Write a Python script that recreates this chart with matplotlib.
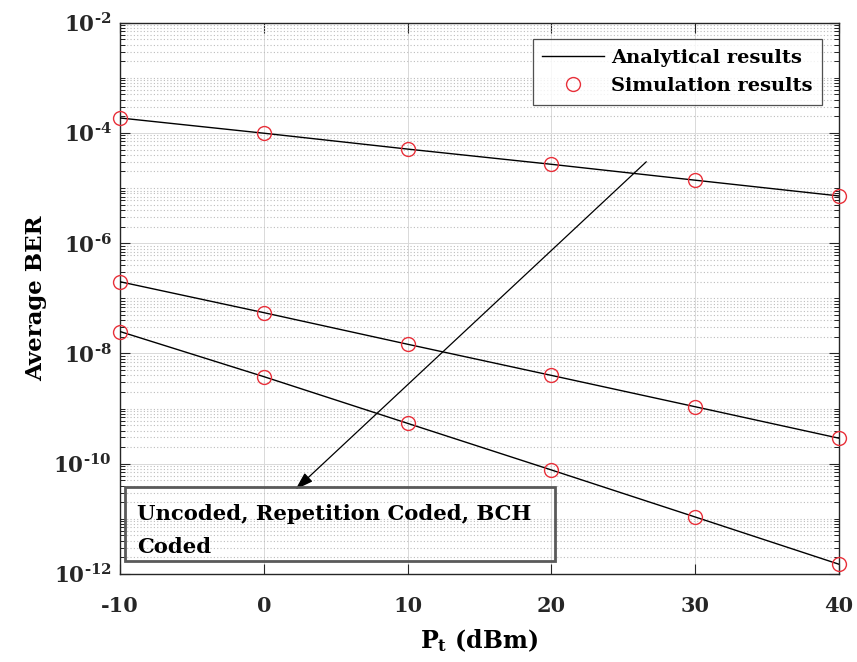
import numpy as np
import matplotlib
matplotlib.use("Agg")
import matplotlib.pyplot as plt
from matplotlib.patches import Rectangle
from matplotlib.ticker import FixedLocator, FuncFormatter, NullFormatter

plt.rcParams['font.family'] = ['DejaVu Serif']
plt.rcParams['font.weight'] = 'bold'
plt.rcParams['mathtext.fontset'] = 'dejavuserif'

# Transmit power (dBm)
pt_dbm = [-10, 0, 10, 20, 30, 40]

# Average BER for each scheme
ber_uncoded = [1.87e-4, 9.9e-5, 5.1e-5, 2.7e-5, 1.39e-5, 7.2e-6]
ber_repetition = [2.0e-7, 5.5e-8, 1.47e-8, 4.0e-9, 1.08e-9, 2.9e-10]
ber_bch = [2.5e-8, 3.8e-9, 5.4e-10, 7.7e-11, 1.08e-11, 1.5e-12]

x_ticks = [-10, 0, 10, 20, 30, 40]
y_exponents = [-12, -10, -8, -6, -4, -2]

HYPHEN = '\u2010'

fig = plt.figure(figsize=(8.57, 6.62), dpi=100)
ax = fig.add_axes([0.140, 0.133, 0.839, 0.8327])

red = '#e8303a'
series = [ber_uncoded, ber_repetition, ber_bch]
for i, ber in enumerate(series):
    ax.plot(pt_dbm, ber, color='black', lw=1.0,
            label='Analytical results' if i == 0 else None, zorder=3)
for i, ber in enumerate(series):
    ax.plot(pt_dbm, ber, ls='none', marker='o', ms=10, mfc='none',
            mec=red, mew=1.0, label='Simulation results' if i == 0 else None,
            zorder=4, clip_on=False)

ax.set_yscale('log')
ax.set_xlim(-10, 40)
ax.set_ylim(1e-12, 1e-2)

ax.xaxis.set_major_locator(FixedLocator(x_ticks))
ax.yaxis.set_major_locator(FixedLocator([10.0 ** e for e in y_exponents]))
minor = [k * 10.0 ** e for e in range(-12, -2) for k in range(1, 10)
         if not (k == 1 and e in y_exponents)]
ax.yaxis.set_minor_locator(FixedLocator(minor))
ax.yaxis.set_minor_formatter(NullFormatter())
ax.xaxis.set_major_formatter(FuncFormatter(lambda v, p: '%d' % v))


def log_label(v, pos):
    e = int(round(np.log10(v)))
    s = str(e).replace('-', HYPHEN)
    return r'$\mathbf{10}^{\mathbf{%s}}$' % s


ax.yaxis.set_major_formatter(FuncFormatter(log_label))

ax.tick_params(axis='both', which='major', direction='in', length=7,
               width=0.8, labelsize=15, top=True, right=True, pad=16,
               colors='#262626')
ax.tick_params(axis='y', which='major', labelsize=15.5, pad=6)
ax.tick_params(axis='y', which='minor', direction='in', length=3.5,
               width=0.6, right=True, left=True)
ax.tick_params(axis='x', which='minor', bottom=False, top=False)
for lab in ax.get_xticklabels():
    lab.set_fontweight('bold')

ax.grid(True, which='major', color='#d9d9d9', lw=0.7, ls='-', zorder=0)
ax.grid(True, which='minor', axis='y', color='#bdbdbd', lw=0.8,
        ls=(0, (1, 2)), zorder=0)
ax.set_axisbelow(True)
for s in ax.spines.values():
    s.set_color('#262626')
    s.set_linewidth(1.0)

ax.set_xlabel(r'P$_{\mathbf{t}}$ (dBm)', fontsize=17, fontweight='bold',
              labelpad=8)
ax.set_ylabel('Average BER', fontsize=16.5, fontweight='bold', labelpad=4)

leg = ax.legend(loc='upper right', bbox_to_anchor=(1.0, 1.0),
                fontsize=14, frameon=True, fancybox=False,
                edgecolor='#262626', handlelength=3.2, borderpad=0.5,
                labelspacing=0.52, handletextpad=0.35, borderaxespad=0.85)
leg.get_frame().set_linewidth(0.9)
for t in leg.get_texts():
    t.set_fontweight('bold')

ax.annotate('', xy=(2.2, 3.4e-11), xytext=(26.6, 3.0e-5),
            arrowprops=dict(arrowstyle='-|>,head_length=1.1,head_width=0.35',
                            color='black', lw=0.9, shrinkA=0, shrinkB=0),
            zorder=5)

# Annotation box naming the three curves
ax.add_patch(Rectangle((0.007, 0.0236), 0.598, 0.134, transform=ax.transAxes,
                       facecolor='none', edgecolor='#5a5a5a', lw=2.0,
                       zorder=6))
ax.text(0.0236, 0.098, 'Uncoded, Repetition Coded, BCH',
        transform=ax.transAxes, fontsize=15.2, fontweight='bold',
        va='baseline', ha='left', zorder=7)
ax.text(0.0236, 0.038, 'Coded',
        transform=ax.transAxes, fontsize=15.2, fontweight='bold',
        va='baseline', ha='left', zorder=7)

fig.savefig('out.png', dpi=100)
